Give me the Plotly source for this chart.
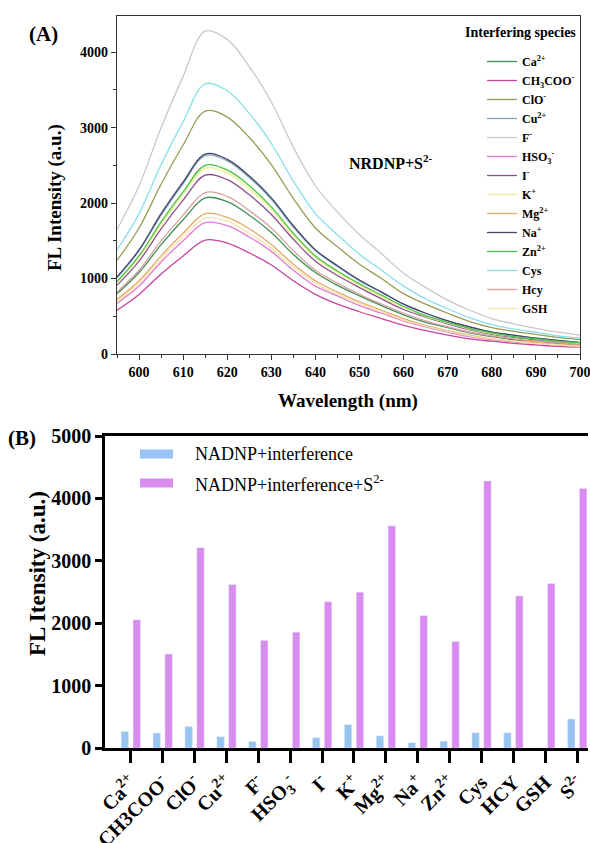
import plotly.graph_objects as go

# ---------------- Panel A data ----------------
wavelength = [595, 600, 605, 610, 615, 620, 625, 630, 635, 640, 645, 650,
              655, 660, 665, 670, 675, 680, 685, 690, 695, 700]

species_A = ["Ca<sup>2+</sup>", "CH<sub>3</sub>COO<sup>-</sup>", "ClO<sup>-</sup>",
             "Cu<sup>2+</sup>", "F<sup>-</sup>", "HSO<sub>3</sub><sup>-</sup>",
             "I<sup>-</sup>", "K<sup>+</sup>", "Mg<sup>2+</sup>", "Na<sup>+</sup>",
             "Zn<sup>2+</sup>", "Cys", "Hcy", "GSH"]

fl_Ca = [800, 1080, 1450, 1780, 2070, 2020, 1840, 1610, 1320, 1080, 910, 770, 640, 520, 420, 350, 280, 230, 190, 170, 140, 120]
fl_CH3COO = [580, 790, 1060, 1300, 1510, 1470, 1340, 1180, 970, 790, 660, 560, 470, 380, 310, 250, 200, 170, 140, 120, 100, 90]
fl_ClO = [1240, 1670, 2250, 2770, 3220, 3140, 2870, 2510, 2060, 1670, 1420, 1190, 1000, 800, 660, 540, 430, 350, 300, 260, 220, 190]
fl_Cu = [1010, 1370, 1840, 2260, 2630, 2560, 2340, 2050, 1680, 1370, 1160, 970, 820, 660, 540, 440, 360, 290, 245, 210, 180, 150]
fl_F = [1650, 2230, 3000, 3680, 4280, 4170, 3810, 3340, 2740, 2230, 1880, 1580, 1330, 1070, 880, 715, 580, 470, 400, 340, 290, 250]
fl_HSO3 = [670, 900, 1220, 1500, 1740, 1700, 1550, 1360, 1110, 900, 770, 640, 540, 440, 360, 290, 230, 190, 160, 140, 120, 100]
fl_I = [910, 1230, 1660, 2040, 2370, 2310, 2110, 1850, 1520, 1230, 1040, 880, 730, 590, 490, 400, 320, 260, 220, 190, 160, 140]
fl_K = [950, 1280, 1720, 2120, 2460, 2400, 2190, 1920, 1570, 1280, 1080, 910, 760, 620, 500, 410, 330, 270, 230, 200, 170, 140]
fl_Mg = [720, 970, 1300, 1600, 1860, 1810, 1660, 1450, 1190, 970, 820, 690, 580, 470, 380, 310, 250, 200, 170, 150, 130, 110]
fl_Na = [1020, 1380, 1860, 2280, 2650, 2580, 2360, 2070, 1700, 1380, 1170, 980, 820, 660, 540, 440, 360, 290, 250, 210, 180, 150]
fl_Zn = [960, 1300, 1750, 2150, 2500, 2440, 2230, 1950, 1600, 1300, 1100, 930, 780, 630, 510, 420, 340, 280, 230, 200, 170, 150]
fl_Cys = [1380, 1860, 2510, 3080, 3580, 3490, 3190, 2790, 2290, 1860, 1580, 1320, 1110, 900, 730, 600, 480, 390, 330, 290, 240, 210]
fl_Hcy = [820, 1110, 1500, 1840, 2140, 2090, 1900, 1670, 1370, 1110, 940, 790, 660, 540, 440, 360, 290, 240, 200, 170, 150, 120]
fl_GSH = [690, 940, 1260, 1550, 1800, 1760, 1600, 1400, 1150, 940, 790, 670, 560, 450, 370, 300, 240, 200, 170, 140, 120, 100]

series_A = [fl_Ca, fl_CH3COO, fl_ClO, fl_Cu, fl_F, fl_HSO3, fl_I, fl_K,
            fl_Mg, fl_Na, fl_Zn, fl_Cys, fl_Hcy, fl_GSH]
colors_A = ["#3f8f55", "#c8449e", "#9a9a55", "#7ea6b4", "#c8c8c8", "#e27ad6",
            "#8e4f8e", "#f2ee86", "#e2aa66", "#44446e", "#46c24a", "#86e0ea",
            "#d8a2a2", "#f6e4a8"]

# ---------------- Panel B data ----------------
categories_B = ["Ca<sup>2+</sup>", "CH3COO<sup>-</sup>", "ClO<sup>-</sup>", "Cu<sup>2+</sup>",
                "F<sup>-</sup>", "HSO<sub>3</sub><sup>-</sup>", "I<sup>-</sup>", "K<sup>+</sup>",
                "Mg<sup>2+</sup>", "Na<sup>+</sup>", "Zn<sup>2+</sup>", "Cys", "HCY", "GSH",
                "S<sup>2-</sup>"]
interference = [265, 240, 345, 180, 105, 0, 165, 375, 195, 85, 110, 245, 245, 0, 465]
interference_S = [2055, 1505, 3210, 2620, 1725, 1855, 2345, 2495, 3560, 2125, 1705, 4280, 2435, 2635, 4160]
legend_B = ["NADNP+interference", "NADNP+interference+S<sup>2-</sup>"]
colors_B = ["#98c4f4", "#d98cf0"]

SERIF = "Liberation Serif, Times New Roman, Times, serif"
W, H = 590, 843

def px(x):
    return x / W

def py(y):
    return 1 - y / H

def sfont(size, bold=True):
    d = dict(family=SERIF, size=size, color="black")
    if bold:
        d["weight"] = "bold"
    return d

fig = go.Figure()

for name, vals, col in zip(species_A, series_A, colors_A):
    fig.add_trace(go.Scatter(
        x=wavelength, y=vals, mode="lines", name=name,
        line=dict(color=col, width=1.3, shape="spline", smoothing=1.0),
        xaxis="x", yaxis="y", legend="legend",
    ))

fig.add_trace(go.Bar(
    x=categories_B, y=interference, name=legend_B[0], marker_color=colors_B[0],
    xaxis="x2", yaxis="y2", showlegend=False))
fig.add_trace(go.Bar(
    x=categories_B, y=interference_S, name=legend_B[1], marker_color=colors_B[1],
    xaxis="x2", yaxis="y2", showlegend=False))

axis_common = dict(showgrid=False, zeroline=False, automargin=False)

fig.update_layout(
    width=W, height=H,
    margin=dict(l=0, r=0, t=0, b=0, autoexpand=False),
    paper_bgcolor="white", plot_bgcolor="white",
    font=dict(family=SERIF, color="black", size=14),
    barmode="group", bargap=0.255, bargroupgap=0.375,
    xaxis=dict(
        domain=[px(117), px(580)], anchor="y", range=[595, 700],
        tickmode="linear", tick0=600, dtick=10, ticks="outside", ticklen=5,
        tickwidth=1.2, tickcolor="#333", showline=True, linecolor="#333",
        linewidth=1.2, mirror=True, ticklabeloverflow="allow",
        minor=dict(ticks="outside", ticklen=3, dtick=5, tick0=595, tickcolor="#333", tickwidth=1),
        tickfont=sfont(14),
        **axis_common),
    yaxis=dict(
        domain=[py(354), py(16)], anchor="x", range=[0, 4480],
        tickmode="linear", tick0=0, dtick=1000, ticks="outside", ticklen=5,
        tickwidth=1.2, tickcolor="#333", showline=True, linecolor="#333",
        linewidth=1.2, mirror=True,
        minor=dict(ticks="outside", ticklen=3, dtick=500, tickcolor="#333", tickwidth=1),
        tickfont=sfont(14),
        **axis_common),
    xaxis2=dict(
        domain=[px(105), px(588)], anchor="y2", type="category",
        range=[-0.81, 14.34], ticks="outside", ticklen=12, tickwidth=2.5,
        tickcolor="black", showline=True, linecolor="black", linewidth=3,
        mirror=True, tickangle=-45, ticklabeloverflow="allow",
        tickfont=sfont(20),
        **axis_common),
    yaxis2=dict(
        domain=[py(748), py(436)], anchor="x2", range=[0, 5000],
        tickmode="linear", tick0=0, dtick=1000, ticks="outside", ticklen=7,
        tickwidth=2.5, tickcolor="black", showline=True, linecolor="black",
        linewidth=2.5, tickfont=sfont(20),
        **axis_common),
    legend=dict(
        x=px(482), y=py(47), xanchor="left", yanchor="top",
        bgcolor="rgba(0,0,0,0)", borderwidth=0,
        font=sfont(12), itemwidth=30,
    ),
)

annotations = [
    dict(text="(A)", x=px(43), y=py(34), font=sfont(21)),
    dict(text="(B)", x=px(22), y=py(438), font=sfont(21)),
    dict(text="Interfering species", x=px(578), y=py(33), xanchor="right", font=sfont(14)),
    dict(text="NRDNP+S<sup>2-</sup>", x=px(391), y=py(162), font=sfont(16)),
    dict(text="FL Intensity (a.u.)", x=px(55), y=py(198), textangle=-90, font=sfont(19)),
    dict(text="Wavelength (nm)", x=px(348), y=py(401), font=sfont(19)),
    dict(text="FL Itensity (a.u.)", x=px(37), y=py(574), textangle=-90, font=sfont(23)),
    dict(text=legend_B[0], x=px(193), y=py(454), xanchor="left", font=sfont(18, bold=False)),
    dict(text=legend_B[1], x=px(193), y=py(483), xanchor="left", font=sfont(18, bold=False)),
]
for a in annotations:
    a.setdefault("xanchor", "center")
    a.setdefault("yanchor", "middle")
    a.update(xref="paper", yref="paper", showarrow=False)
fig.update_layout(annotations=annotations)

shapes = [
    dict(type="rect", x0=px(140), x1=px(173), y0=py(458.5), y1=py(449.5),
         fillcolor=colors_B[0], line=dict(width=0)),
    dict(type="rect", x0=px(140), x1=px(173), y0=py(487.5), y1=py(478.5),
         fillcolor=colors_B[1], line=dict(width=0)),
]
for s in shapes:
    s.update(xref="paper", yref="paper")
fig.update_layout(shapes=shapes)

fig.write_html("out.html")
